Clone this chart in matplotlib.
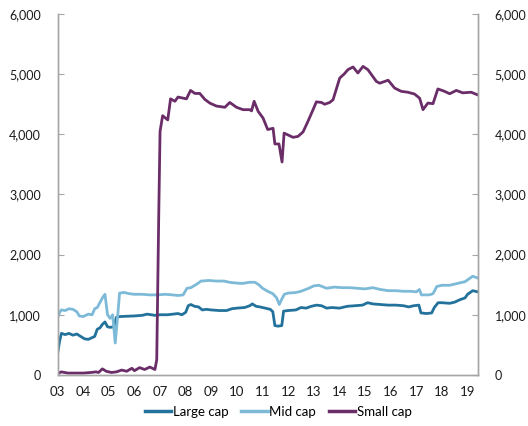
import matplotlib
matplotlib.use("Agg")
import matplotlib.pyplot as plt
from matplotlib.ticker import FuncFormatter

plt.rcParams["font.family"] = ["Lato", "DejaVu Sans"]

# Large cap index (decimal year, value)
large_x = [2003.0, 2003.08, 2003.15, 2003.3, 2003.45, 2003.6, 2003.75, 2003.9, 2004.05, 2004.2,
           2004.35, 2004.45, 2004.55, 2004.65, 2004.75, 2004.85, 2004.95, 2005.05, 2005.2, 2005.3,
           2005.45, 2005.7, 2006.0, 2006.3, 2006.5, 2006.8, 2007.0, 2007.3, 2007.5, 2007.7,
           2007.85, 2008.0, 2008.1, 2008.2, 2008.35, 2008.5, 2008.65, 2008.8, 2009.0, 2009.3,
           2009.6, 2009.8, 2010.0, 2010.3, 2010.5, 2010.6, 2010.75, 2010.9, 2011.1, 2011.3,
           2011.4, 2011.48, 2011.6, 2011.75, 2011.82, 2012.0, 2012.3, 2012.5, 2012.7, 2012.9,
           2013.1, 2013.3, 2013.5, 2013.7, 2014.0, 2014.3, 2014.6, 2014.9, 2015.1, 2015.3,
           2015.6, 2015.9, 2016.2, 2016.5, 2016.7, 2016.9, 2017.1, 2017.18, 2017.4, 2017.6,
           2017.7, 2017.85, 2018.0, 2018.3, 2018.5, 2018.7, 2018.9, 2019.0, 2019.2, 2019.4]
large_y = [350, 560, 690, 670, 690, 660, 680, 640, 600, 590,
           620, 640, 760, 780, 840, 880, 800, 790, 800, 960,
           970, 975, 980, 990, 1010, 990, 1000, 1000, 1010, 1020,
           1000, 1040, 1150, 1170, 1140, 1130, 1080, 1090, 1080, 1070,
           1070, 1100, 1110, 1120, 1150, 1180, 1140, 1130, 1110, 1090,
           1050, 820, 810, 820, 1060, 1070, 1080, 1120, 1110, 1140,
           1160, 1150, 1110, 1120, 1110, 1140, 1150, 1160, 1200, 1180,
           1170, 1160, 1160, 1150, 1130, 1150, 1160, 1030, 1020, 1030,
           1120, 1200, 1200, 1190, 1210, 1250, 1280, 1340, 1400, 1380]

# Mid cap index
mid_x = [2003.0, 2003.08, 2003.15, 2003.3, 2003.45, 2003.6, 2003.75, 2003.85, 2004.0, 2004.2,
         2004.35, 2004.45, 2004.55, 2004.65, 2004.75, 2004.85, 2004.95, 2005.05, 2005.15, 2005.25,
         2005.35, 2005.42, 2005.6, 2005.8, 2006.0, 2006.3, 2006.6, 2006.9, 2007.2, 2007.5,
         2007.7, 2007.9, 2008.05, 2008.2, 2008.4, 2008.6, 2008.9, 2009.2, 2009.5, 2009.7,
         2009.9, 2010.2, 2010.5, 2010.7, 2010.85, 2011.0, 2011.2, 2011.4, 2011.55, 2011.65,
         2011.75, 2011.85, 2012.0, 2012.3, 2012.5, 2012.8, 2013.0, 2013.2, 2013.5, 2013.8,
         2014.1, 2014.4, 2014.7, 2015.0, 2015.3, 2015.6, 2015.9, 2016.2, 2016.5, 2016.8,
         2017.0, 2017.12, 2017.2, 2017.5, 2017.65, 2017.8, 2018.0, 2018.3, 2018.6, 2018.9,
         2019.1, 2019.2, 2019.4]
mid_y = [950, 1040, 1080, 1070, 1100, 1090, 1050, 980, 970, 1010,
         1000, 1100, 1120, 1200, 1280, 1340, 1000, 940, 1000, 530,
         1000, 1360, 1370, 1350, 1340, 1340, 1330, 1330, 1340, 1330,
         1320, 1330, 1440, 1450, 1500, 1560, 1570, 1560, 1560, 1540,
         1530, 1520, 1540, 1540, 1500, 1440, 1390, 1350, 1280, 1170,
         1260, 1340, 1360, 1370, 1390, 1440, 1480, 1490, 1440, 1460,
         1450, 1450, 1440, 1430, 1450, 1420, 1400, 1400, 1390, 1390,
         1380, 1420, 1330, 1330, 1350, 1470, 1490, 1490, 1520, 1550,
         1610, 1640, 1610]

# Small cap index
small_x = [2003.0, 2003.15, 2003.4, 2003.7, 2004.0, 2004.3, 2004.5, 2004.6, 2004.75, 2004.9,
           2005.1, 2005.3, 2005.5, 2005.7, 2005.9, 2006.0, 2006.2, 2006.4, 2006.6, 2006.8,
           2006.87, 2006.95, 2007.0, 2007.1, 2007.3, 2007.41, 2007.58, 2007.7, 2008.03, 2008.19,
           2008.36, 2008.55, 2008.75, 2008.94, 2009.2, 2009.53, 2009.72, 2009.98, 2010.24, 2010.5,
           2010.57, 2010.67, 2010.83, 2011.02, 2011.2, 2011.41, 2011.48, 2011.64, 2011.76, 2011.84,
           2012.19, 2012.38, 2012.58, 2012.77, 2012.97, 2013.1, 2013.3, 2013.42, 2013.62, 2013.75,
           2014.01, 2014.2, 2014.33, 2014.53, 2014.72, 2014.92, 2015.11, 2015.44, 2015.57, 2015.9,
           2016.15, 2016.41, 2016.67, 2016.93, 2017.13, 2017.26, 2017.45, 2017.65, 2017.84, 2018.1,
           2018.3, 2018.56, 2018.81, 2019.14, 2019.43]
small_y = [20, 50, 30, 30, 30, 40, 50, 40, 100, 60,
           40, 50, 80, 60, 110, 70, 120, 90, 130, 90,
           250, 2700, 4050, 4310, 4240, 4590, 4550, 4620, 4590, 4730,
           4680, 4680, 4580, 4520, 4470, 4450, 4530, 4450, 4410, 4410,
           4390, 4550, 4380, 4270, 4080, 4100, 3840, 3840, 3540, 4020,
           3950, 3965, 4040, 4215, 4410, 4540, 4530, 4500, 4530, 4575,
           4935, 5010, 5075, 5120, 5020, 5130, 5075, 4880, 4850, 4900,
           4770, 4715, 4700, 4670, 4600, 4410, 4520, 4510, 4755, 4715,
           4675, 4730, 4690, 4700, 4650]

years = list(range(2003, 2020))
year_labels = [f"{y % 100:02d}" for y in years]
y_ticks = [0, 1000, 2000, 3000, 4000, 5000, 6000]

c_large = "#23729b"
c_mid = "#7cbad8"
c_small = "#6a2d68"
c_axis = "#a6a6a6"

fig = plt.figure(figsize=(5.28, 4.26), dpi=100)
ax = fig.add_axes([0.109, 0.12, 0.796, 0.847])

ax.plot(large_x, large_y, color=c_large, lw=2.0, label="Large cap")
ax.plot(mid_x, mid_y, color=c_mid, lw=2.0, label="Mid cap")
ax.plot(small_x, small_y, color=c_small, lw=2.0, label="Small cap")

ax.set_xlim(2003, 2019.4)
ax.set_ylim(0, 6000)
ax.set_xticks(years)
ax.set_xticklabels(year_labels)
ax.set_yticks(y_ticks)
fmt = FuncFormatter(lambda v, p: f"{int(v):,}")
ax.yaxis.set_major_formatter(fmt)

ax2 = ax.twinx()
ax2.set_ylim(0, 6000)
ax2.set_yticks(y_ticks)
ax2.yaxis.set_major_formatter(fmt)

for a in (ax, ax2):
    a.spines["top"].set_visible(False)
    for s in ("left", "right", "bottom"):
        a.spines[s].set_color(c_axis)
        a.spines[s].set_linewidth(1.0)
ax.tick_params(axis="y", direction="in", length=4, color=c_axis, pad=12, labelsize=9, labelcolor="#1a1a1a")
ax2.tick_params(axis="y", direction="in", length=4, color=c_axis, pad=12, labelsize=9, labelcolor="#1a1a1a")
ax.tick_params(axis="x", length=0, pad=8, labelsize=9.5, labelcolor="#1a1a1a")

fig.legend(loc="center", bbox_to_anchor=(0.527, 0.033), ncol=3, frameon=False,
           fontsize=9.5, handlelength=2.0, handletextpad=0.1, columnspacing=1.0)
for line in fig.legends[0].get_lines():
    line.set_linewidth(2.5)

fig.savefig("out.png", dpi=100)
